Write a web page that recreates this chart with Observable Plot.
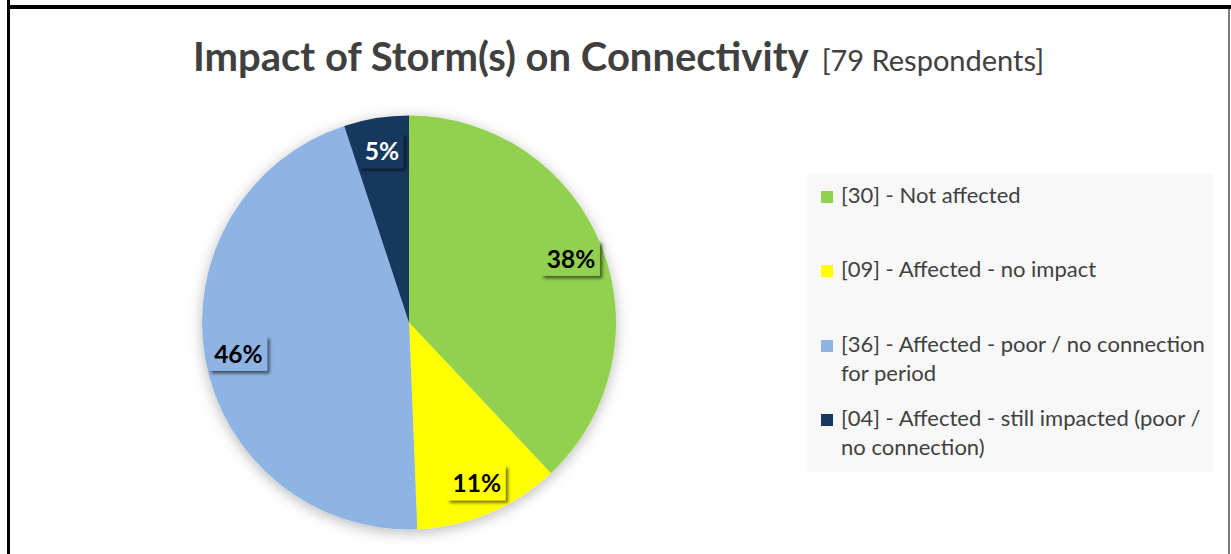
<!DOCTYPE html>
<html><head><meta charset="utf-8">
<script src="https://cdn.jsdelivr.net/npm/d3@7"></script>
<script src="https://cdn.jsdelivr.net/npm/@observablehq/plot@0.6"></script>
<style>
html,body{margin:0;padding:0;background:#fff;}
#wrap{position:relative;width:1231px;height:554px;overflow:hidden;background:#fff;font-family:Lato,"Open Sans",sans-serif;color:#404040;}
#chart{position:absolute;left:0;top:0;}
.bline{position:absolute;background:#000;}
#title{position:absolute;left:193px;top:36px;white-space:nowrap;line-height:1;}
#title .t1{font-weight:700;font-size:40px;}
#title .t2{font-weight:400;font-size:29px;margin-left:13px;}
#legend{position:absolute;left:808px;top:175px;width:405px;height:296px;background:#f8f8f8;box-shadow:0 0 3px rgba(0,0,0,0.06);box-sizing:border-box;padding-top:5px;padding-left:13px;}
.item{display:flex;height:74.4px;}
.sw{width:12px;height:12px;margin-top:11px;margin-right:8px;flex:none;}
.lt{width:378px;font-size:22px;line-height:29px;}
</style></head><body>
<div id="wrap">
  <div id="chart"></div>
  <div class="bline" style="left:7px;top:0;width:3px;height:554px;"></div>
  <div class="bline" style="left:7px;top:5px;width:1224px;height:4px;"></div>
  <div class="bline" style="left:1228px;top:9px;width:1.5px;height:545px;background:#7a7a7a;"></div>
  <div id="title"><span class="t1"></span><span class="t2"></span></div>
  <div id="legend"></div>
</div>
<script>
// ---- data ----
const categories = ["Not affected", "Affected - no impact", "Affected - poor / no connection for period", "Affected - still impacted (poor / no connection)"];
const counts = [30, 9, 36, 4];
const percentLabels = ["38%", "11%", "46%", "5%"];
const colors = ["#92D050", "#FFFF00", "#8EB4E3", "#17375E"];
const labelTextColors = ["#000000", "#000000", "#000000", "#FFFFFF"];
const titleText = "Impact of Storm(s) on Connectivity";
const subtitleText = "[79 Respondents]";

// ---- table ----
const table = categories.map((c, i) => ({category: c, count: counts[i], label: percentLabels[i], textColor: labelTextColors[i]}));
const arcs = d3.pie().sort(null).value(d => d.count)(table);
const labelR = 0.84;
const labelData = arcs.map(a => {
  const mid = (a.startAngle + a.endAngle) / 2;
  return {...a.data, lx: labelR * Math.sin(mid), ly: labelR * Math.cos(mid)};
});

const labelSize = 24.5;
const ctx = document.createElement("canvas").getContext("2d");
ctx.font = `700 ${labelSize}px Lato`;

function pieSlices(index, scales) {
  const cx = scales.x(0), cy = scales.y(0), R = scales.x(1) - scales.x(0);
  const arc = d3.arc().innerRadius(0).outerRadius(R);
  const g = d3.create("svg:g");
  const defs = g.append("defs");
  const f1 = defs.append("filter").attr("id", "pieShadow").attr("x", "-20%").attr("y", "-20%").attr("width", "140%").attr("height", "140%");
  f1.append("feDropShadow").attr("dx", 0).attr("dy", 3).attr("stdDeviation", 7).attr("flood-color", "#000").attr("flood-opacity", 0.28);
  const f2 = defs.append("filter").attr("id", "boxShadow").attr("x", "-30%").attr("y", "-30%").attr("width", "160%").attr("height", "160%");
  f2.append("feDropShadow").attr("dx", 2.5).attr("dy", 2.5).attr("stdDeviation", 1.5).attr("flood-color", "#000").attr("flood-opacity", 0.55);
  g.append("g").attr("transform", `translate(${cx},${cy})`).attr("filter", "url(#pieShadow)")
    .selectAll("path").data(arcs).join("path")
    .attr("d", arc).attr("fill", d => scales.color(d.data.category));
  g.append("g").selectAll("rect").data(labelData).join("rect")
    .attr("filter", "url(#boxShadow)")
    .attr("fill", d => scales.color(d.category))
    .each(function(d) {
      const w = ctx.measureText(d.label).width + 10, h = 35;
      d3.select(this).attr("x", scales.x(d.lx) - w / 2).attr("y", scales.y(d.ly) - h / 2).attr("width", w).attr("height", h);
    });
  return g.node();
}

const plot = Plot.plot({
  width: 1231, height: 554, margin: 0,
  x: {domain: [-1, 1], range: [202, 616], axis: null},
  y: {domain: [-1, 1], range: [529.5, 115.5], axis: null},
  color: {domain: categories, range: colors},
  style: {background: "transparent", overflow: "visible"},
  marks: [
    Plot.dot(table, {x: () => 0, y: () => 0, fill: "category", r: 0}),
    pieSlices,
    Plot.text(labelData, {x: "lx", y: "ly", text: "label", fill: "textColor", fontSize: labelSize, fontWeight: 700, fontFamily: "Lato", dy: 1})
  ]
});
document.getElementById("chart").appendChild(plot);

document.querySelector("#title .t1").textContent = titleText;
document.querySelector("#title .t2").textContent = subtitleText;

const legend = d3.select("#legend");
table.forEach((d, i) => {
  const it = legend.append("div").attr("class", "item");
  it.append("div").attr("class", "sw").style("background", colors[i]);
  it.append("div").attr("class", "lt").text(`[${String(d.count).padStart(2, "0")}] - ${d.category}`);
});
</script>
</body></html>
